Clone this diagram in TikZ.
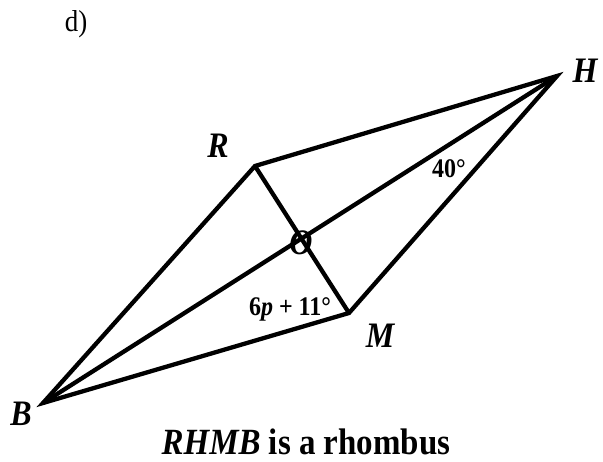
\documentclass[tikz,border=0pt]{standalone}
\usepackage{fontspec}
\usepackage{graphicx}
\setmainfont{Liberation Serif}
\newcommand{\vs}[1]{\scalebox{1}[1.12]{#1}}
\tikzset{
  edge/.style={line width=4.3pt, line join=miter, line cap=butt},
  vlab/.style={inner sep=0pt, anchor=base, font=\fontsize{32}{32}\selectfont\bfseries\itshape},
  alab/.style={inner sep=0pt, anchor=base, font=\fontsize{24}{24}\selectfont\bfseries},
  ttl/.style={inner sep=0pt, anchor=base, font=\fontsize{33}{33}\selectfont\bfseries},
}
\begin{document}
\begin{tikzpicture}[x=1pt,y=-1pt]
\useasboundingbox (0,0) rectangle (603,461);
\coordinate (B) at (43,403);
\coordinate (R) at (255,166);
\coordinate (H) at (557,76);
\coordinate (M) at (349,313);
\coordinate (O) at (300,240);
\draw[edge] (B) -- (R) -- (H) -- (M) -- cycle;
\draw[edge] (B) -- (H);
\draw[edge] (R) -- (M);
\node[vlab] (lR) at (218,157) {\vs{R}};
\node[vlab] (lB) at (21,425) {\vs{B}};
\node[vlab] (lH) at (585,82) {\vs{H}};
\node[vlab] (lM) at (380,347) {\vs{M}};
\node[vlab] (lO) at (301,254) {\vs{O}};
\node[alab] (a40) at (449,177) {\vs{40°}};
\node[alab] (a6p) at (290,315) {\vs{6\textit{p} + 11°}};
\node[inner sep=0pt, anchor=base, font=\fontsize{27}{27}\selectfont] (d) at (76,31) {\vs{d)}};
\node[ttl] (title) at (306,454) {\vs{\textit{RHMB} is a rhombus}};
\end{tikzpicture}
\end{document}
